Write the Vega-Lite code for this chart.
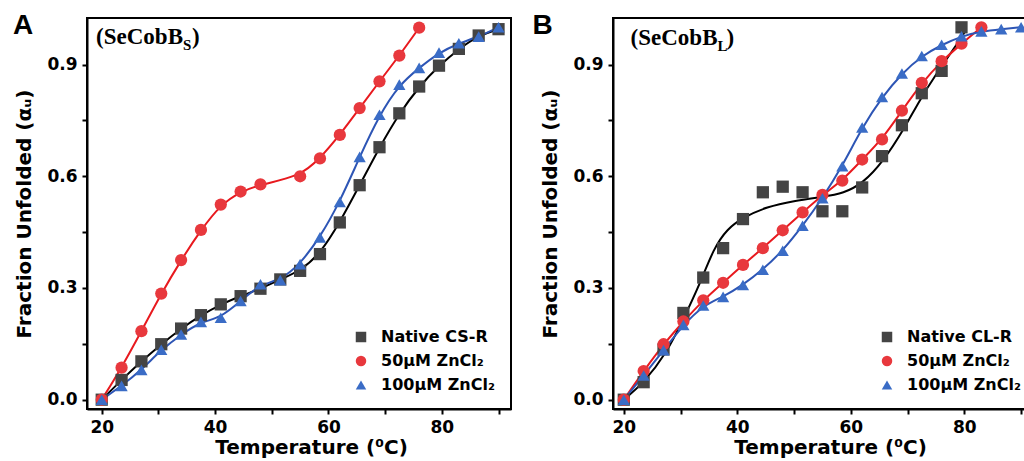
{
  "$schema": "https://vega.github.io/schema/vega-lite/v6.json",
  "padding": {"left": 11, "top": 11, "right": 0, "bottom": 0},
  "background": "white",
  "config": {
    "font": "DejaVu Sans",
    "view": {"stroke": "black", "strokeWidth": 2},
    "axis": {"grid": false, "domainColor": "black", "domainWidth": 2, "tickColor": "black", "tickWidth": 2, "tickSize": 5, "labelFont": "DejaVu Sans", "labelFontWeight": "bold", "labelFontSize": 17, "labelColor": "black", "titleFont": "DejaVu Sans", "titleFontWeight": "bold", "titleFontSize": 20, "titleColor": "black"},
    "legend": {"orient": "bottom-right", "offset": 16, "labelFont": "DejaVu Sans", "labelFontWeight": "bold", "labelFontSize": 16, "labelColor": "black", "symbolSize": 110, "symbolStrokeWidth": 0, "rowPadding": 8, "labelOffset": 12, "padding": 0}
  },
  "datasets": {
    "tag": [
      {"p": "A", "t": 4.34, "v": 0.982, "txt": "A"},
      {"p": "B", "t": 3.92, "v": 0.982, "txt": "B"}
    ],
    "lab": [
      {"p": "A", "t": 19.0, "v": 0.954, "txt": "(SeCobB", "sub": "S"},
      {"p": "B", "t": 21.2, "v": 0.952, "txt": "(SeCobB", "sub": "L"}
    ],
    "pts": [
      {"p":"A","s":"Native CS-R","r":"b","t":20,"v":0},
      {"p":"A","s":"Native CS-R","r":"b","t":23.5,"v":0.053},
      {"p":"A","s":"Native CS-R","r":"b","t":27,"v":0.103},
      {"p":"A","s":"Native CS-R","r":"b","t":30.5,"v":0.149},
      {"p":"A","s":"Native CS-R","r":"b","t":34,"v":0.191},
      {"p":"A","s":"Native CS-R","r":"b","t":37.5,"v":0.227},
      {"p":"A","s":"Native CS-R","r":"b","t":41,"v":0.256},
      {"p":"A","s":"Native CS-R","r":"b","t":44.5,"v":0.278},
      {"p":"A","s":"Native CS-R","r":"b","t":48,"v":0.298},
      {"p":"A","s":"Native CS-R","r":"b","t":51.5,"v":0.323},
      {"p":"A","s":"Native CS-R","r":"b","t":55,"v":0.346},
      {"p":"A","s":"Native CS-R","r":"b","t":58.5,"v":0.391},
      {"p":"A","s":"Native CS-R","r":"b","t":62,"v":0.476},
      {"p":"A","s":"Native CS-R","r":"b","t":65.5,"v":0.576},
      {"p":"A","s":"Native CS-R","r":"b","t":69,"v":0.678},
      {"p":"A","s":"Native CS-R","r":"b","t":72.5,"v":0.769},
      {"p":"A","s":"Native CS-R","r":"b","t":76,"v":0.841},
      {"p":"A","s":"Native CS-R","r":"b","t":79.5,"v":0.897},
      {"p":"A","s":"Native CS-R","r":"b","t":83,"v":0.942},
      {"p":"A","s":"Native CS-R","r":"b","t":86.5,"v":0.978},
      {"p":"A","s":"Native CS-R","r":"b","t":90,"v":0.995},
      {"p":"A","s":"50µM ZnCl₂","r":"b","t":20,"v":0},
      {"p":"A","s":"50µM ZnCl₂","r":"b","t":23.5,"v":0.086},
      {"p":"A","s":"50µM ZnCl₂","r":"b","t":27,"v":0.184},
      {"p":"A","s":"50µM ZnCl₂","r":"b","t":30.5,"v":0.285},
      {"p":"A","s":"50µM ZnCl₂","r":"b","t":34,"v":0.375},
      {"p":"A","s":"50µM ZnCl₂","r":"b","t":37.5,"v":0.456},
      {"p":"A","s":"50µM ZnCl₂","r":"b","t":41,"v":0.524},
      {"p":"A","s":"50µM ZnCl₂","r":"b","t":44.5,"v":0.559},
      {"p":"A","s":"50µM ZnCl₂","r":"b","t":48,"v":0.578},
      {"p":"A","s":"50µM ZnCl₂","r":"b","t":55,"v":0.6},
      {"p":"A","s":"50µM ZnCl₂","r":"b","t":58.5,"v":0.648},
      {"p":"A","s":"50µM ZnCl₂","r":"b","t":62,"v":0.711},
      {"p":"A","s":"50µM ZnCl₂","r":"b","t":65.5,"v":0.783},
      {"p":"A","s":"50µM ZnCl₂","r":"b","t":69,"v":0.855},
      {"p":"A","s":"50µM ZnCl₂","r":"b","t":72.5,"v":0.924},
      {"p":"A","s":"50µM ZnCl₂","r":"b","t":76,"v":0.999},
      {"p":"A","s":"100µM ZnCl₂","r":"b","t":20,"v":0},
      {"p":"A","s":"100µM ZnCl₂","r":"b","t":23.5,"v":0.037},
      {"p":"A","s":"100µM ZnCl₂","r":"b","t":27,"v":0.08},
      {"p":"A","s":"100µM ZnCl₂","r":"b","t":30.5,"v":0.134},
      {"p":"A","s":"100µM ZnCl₂","r":"b","t":34,"v":0.175},
      {"p":"A","s":"100µM ZnCl₂","r":"b","t":37.5,"v":0.209},
      {"p":"A","s":"100µM ZnCl₂","r":"b","t":41,"v":0.22},
      {"p":"A","s":"100µM ZnCl₂","r":"b","t":44.5,"v":0.265},
      {"p":"A","s":"100µM ZnCl₂","r":"b","t":48,"v":0.31},
      {"p":"A","s":"100µM ZnCl₂","r":"b","t":51.5,"v":0.321},
      {"p":"A","s":"100µM ZnCl₂","r":"b","t":55,"v":0.364},
      {"p":"A","s":"100µM ZnCl₂","r":"b","t":58.5,"v":0.436},
      {"p":"A","s":"100µM ZnCl₂","r":"b","t":62,"v":0.531},
      {"p":"A","s":"100µM ZnCl₂","r":"b","t":65.5,"v":0.652},
      {"p":"A","s":"100µM ZnCl₂","r":"b","t":69,"v":0.765},
      {"p":"A","s":"100µM ZnCl₂","r":"b","t":72.5,"v":0.846},
      {"p":"A","s":"100µM ZnCl₂","r":"b","t":76,"v":0.891},
      {"p":"A","s":"100µM ZnCl₂","r":"b","t":79.5,"v":0.932},
      {"p":"A","s":"100µM ZnCl₂","r":"b","t":83,"v":0.957},
      {"p":"A","s":"100µM ZnCl₂","r":"b","t":86.5,"v":0.975},
      {"p":"A","s":"100µM ZnCl₂","r":"b","t":90,"v":1.0},
      {"p":"B","s":"Native CL-R","r":"d","t":20,"v":0},
      {"p":"B","s":"Native CL-R","r":"d","t":23.5,"v":0.047},
      {"p":"B","s":"Native CL-R","r":"d","t":27,"v":0.135},
      {"p":"B","s":"Native CL-R","r":"d","t":30.5,"v":0.233},
      {"p":"B","s":"Native CL-R","r":"d","t":34,"v":0.328},
      {"p":"B","s":"Native CL-R","r":"d","t":37.5,"v":0.407},
      {"p":"B","s":"Native CL-R","r":"d","t":41,"v":0.485},
      {"p":"B","s":"Native CL-R","r":"d","t":44.5,"v":0.557},
      {"p":"B","s":"Native CL-R","r":"d","t":48,"v":0.572},
      {"p":"B","s":"Native CL-R","r":"d","t":51.5,"v":0.557},
      {"p":"B","s":"Native CL-R","r":"d","t":55,"v":0.506},
      {"p":"B","s":"Native CL-R","r":"d","t":58.5,"v":0.506},
      {"p":"B","s":"Native CL-R","r":"d","t":62,"v":0.57},
      {"p":"B","s":"Native CL-R","r":"d","t":65.5,"v":0.654},
      {"p":"B","s":"Native CL-R","r":"d","t":69,"v":0.737},
      {"p":"B","s":"Native CL-R","r":"d","t":72.5,"v":0.823},
      {"p":"B","s":"Native CL-R","r":"d","t":76,"v":0.883},
      {"p":"B","s":"Native CL-R","r":"d","t":79.5,"v":1.0},
      {"p":"B","s":"Native CL-R","r":"f","t":20,"v":0},
      {"p":"B","s":"Native CL-R","r":"f","t":23.5,"v":0.045},
      {"p":"B","s":"Native CL-R","r":"f","t":27.5,"v":0.124},
      {"p":"B","s":"Native CL-R","r":"f","t":30.3,"v":0.21},
      {"p":"B","s":"Native CL-R","r":"f","t":33.5,"v":0.314},
      {"p":"B","s":"Native CL-R","r":"f","t":35.8,"v":0.405},
      {"p":"B","s":"Native CL-R","r":"f","t":38.2,"v":0.459},
      {"p":"B","s":"Native CL-R","r":"f","t":41.1,"v":0.49},
      {"p":"B","s":"Native CL-R","r":"f","t":45.2,"v":0.518},
      {"p":"B","s":"Native CL-R","r":"f","t":49.9,"v":0.534},
      {"p":"B","s":"Native CL-R","r":"f","t":55.1,"v":0.545},
      {"p":"B","s":"Native CL-R","r":"f","t":58.7,"v":0.554},
      {"p":"B","s":"Native CL-R","r":"f","t":62.2,"v":0.582},
      {"p":"B","s":"Native CL-R","r":"f","t":65.7,"v":0.64},
      {"p":"B","s":"Native CL-R","r":"f","t":69.2,"v":0.722},
      {"p":"B","s":"Native CL-R","r":"f","t":72.1,"v":0.804},
      {"p":"B","s":"Native CL-R","r":"f","t":75.1,"v":0.876},
      {"p":"B","s":"Native CL-R","r":"f","t":78,"v":0.939},
      {"p":"B","s":"Native CL-R","r":"f","t":80.2,"v":0.99},
      {"p":"B","s":"50µM ZnCl₂","r":"b","t":20,"v":0},
      {"p":"B","s":"50µM ZnCl₂","r":"b","t":23.5,"v":0.077},
      {"p":"B","s":"50µM ZnCl₂","r":"b","t":27,"v":0.149},
      {"p":"B","s":"50µM ZnCl₂","r":"b","t":30.5,"v":0.21},
      {"p":"B","s":"50µM ZnCl₂","r":"b","t":34,"v":0.267},
      {"p":"B","s":"50µM ZnCl₂","r":"b","t":37.5,"v":0.314},
      {"p":"B","s":"50µM ZnCl₂","r":"b","t":41,"v":0.362},
      {"p":"B","s":"50µM ZnCl₂","r":"b","t":44.5,"v":0.407},
      {"p":"B","s":"50µM ZnCl₂","r":"b","t":48,"v":0.455},
      {"p":"B","s":"50µM ZnCl₂","r":"b","t":51.5,"v":0.503},
      {"p":"B","s":"50µM ZnCl₂","r":"b","t":55,"v":0.55},
      {"p":"B","s":"50µM ZnCl₂","r":"b","t":58.5,"v":0.588},
      {"p":"B","s":"50µM ZnCl₂","r":"b","t":62,"v":0.645},
      {"p":"B","s":"50µM ZnCl₂","r":"b","t":65.5,"v":0.699},
      {"p":"B","s":"50µM ZnCl₂","r":"b","t":69,"v":0.776},
      {"p":"B","s":"50µM ZnCl₂","r":"b","t":72.5,"v":0.851},
      {"p":"B","s":"50µM ZnCl₂","r":"b","t":76,"v":0.909},
      {"p":"B","s":"50µM ZnCl₂","r":"b","t":79.5,"v":0.956},
      {"p":"B","s":"50µM ZnCl₂","r":"b","t":83,"v":1.0},
      {"p":"B","s":"100µM ZnCl₂","r":"b","t":20,"v":0},
      {"p":"B","s":"100µM ZnCl₂","r":"b","t":23.5,"v":0.065},
      {"p":"B","s":"100µM ZnCl₂","r":"b","t":27,"v":0.133},
      {"p":"B","s":"100µM ZnCl₂","r":"b","t":30.5,"v":0.201},
      {"p":"B","s":"100µM ZnCl₂","r":"b","t":34,"v":0.253},
      {"p":"B","s":"100µM ZnCl₂","r":"b","t":37.5,"v":0.276},
      {"p":"B","s":"100µM ZnCl₂","r":"b","t":41,"v":0.308},
      {"p":"B","s":"100µM ZnCl₂","r":"b","t":44.5,"v":0.349},
      {"p":"B","s":"100µM ZnCl₂","r":"b","t":48,"v":0.4},
      {"p":"B","s":"100µM ZnCl₂","r":"b","t":51.5,"v":0.467},
      {"p":"B","s":"100µM ZnCl₂","r":"b","t":55,"v":0.541},
      {"p":"B","s":"100µM ZnCl₂","r":"b","t":58.5,"v":0.627},
      {"p":"B","s":"100µM ZnCl₂","r":"b","t":62,"v":0.731},
      {"p":"B","s":"100µM ZnCl₂","r":"b","t":65.5,"v":0.813},
      {"p":"B","s":"100µM ZnCl₂","r":"b","t":69,"v":0.876},
      {"p":"B","s":"100µM ZnCl₂","r":"b","t":72.5,"v":0.923},
      {"p":"B","s":"100µM ZnCl₂","r":"b","t":76,"v":0.953},
      {"p":"B","s":"100µM ZnCl₂","r":"b","t":79.5,"v":0.976},
      {"p":"B","s":"100µM ZnCl₂","r":"b","t":83,"v":0.989},
      {"p":"B","s":"100µM ZnCl₂","r":"b","t":86.5,"v":0.995},
      {"p":"B","s":"100µM ZnCl₂","r":"b","t":90,"v":1.0}
    ]
  },
  "hconcat": [
    {
      "width": 424,
      "height": 391,
      "encoding": {
        "x": {"field": "t", "type": "quantitative", "scale": {"domain": [17.4, 92.2], "nice": false, "zero": false},
          "axis": {"title": "Temperature (⁰C)", "values": [20, 30, 40, 50, 60, 70, 80, 90], "labelExpr": "datum.value % 20 === 0 ? datum.label : ''", "labelPadding": 5, "titlePadding": 2, "titleX": 224}},
        "y": {"field": "v", "type": "quantitative", "scale": {"domain": [-0.025, 1.025], "nice": false, "zero": false},
          "axis": {"title": "Fraction Unfolded (αᵤ)", "values": [0, 0.15, 0.3, 0.45, 0.6, 0.75, 0.9], "labelExpr": "round(datum.value * 100) % 30 === 0 ? format(datum.value, '.1f') : ''", "labelPadding": 5, "titlePadding": 12}}
      },
      "layer": [
        {"data": {"name": "pts"}, "transform": [{"filter": "datum.p === 'A' && datum.r !== 'd' && datum.s === 'Native CS-R'"}], "mark": {"type": "line", "interpolate": "basis", "strokeWidth": 2, "color": "#000000"}, "encoding": {}},
        {"data": {"name": "pts"}, "transform": [{"filter": "datum.p === 'A' && datum.r !== 'd' && datum.s === '50µM ZnCl₂'"}], "mark": {"type": "line", "interpolate": "basis", "strokeWidth": 2, "color": "#e8191e"}, "encoding": {}},
        {"data": {"name": "pts"}, "transform": [{"filter": "datum.p === 'A' && datum.r !== 'd' && datum.s === '100µM ZnCl₂'"}], "mark": {"type": "line", "interpolate": "basis", "strokeWidth": 2, "color": "#2d55b5"}, "encoding": {}},
        {
          "data": {"name": "pts"},
          "transform": [{"filter": "datum.p === 'A' && datum.r !== 'f'"}],
          "mark": {"type": "point", "filled": true, "size": 150, "opacity": 1},
          "encoding": {
            "color": {"field": "s", "type": "nominal", "title": null, "scale": {"domain": ["Native CS-R", "50µM ZnCl₂", "100µM ZnCl₂"], "range": ["#444444", "#e8383d", "#3a6cc6"]}},
            "shape": {"field": "s", "type": "nominal", "title": null, "scale": {"domain": ["Native CS-R", "50µM ZnCl₂", "100µM ZnCl₂"], "range": ["square", "circle", "triangle-up"]}}
          }
        },
        {
          "data": {"name": "lab"},
          "transform": [{"filter": "datum.p === 'A'"}],
          "mark": {"type": "text", "font": "Liberation Serif", "fontWeight": "bold", "fontSize": 23, "align": "left", "baseline": "alphabetic", "color": "black"},
          "encoding": {"text": {"field": "txt"}}
        },
        {
          "data": {"name": "lab"},
          "transform": [{"filter": "datum.p === 'A'"}],
          "mark": {"type": "text", "font": "Liberation Serif", "fontWeight": "bold", "fontSize": 15, "align": "left", "baseline": "alphabetic", "color": "black", "dx": 87, "dy": 6},
          "encoding": {"text": {"field": "sub"}}
        },
        {
          "data": {"name": "lab"},
          "transform": [{"filter": "datum.p === 'A'"}],
          "mark": {"type": "text", "font": "Liberation Serif", "fontWeight": "bold", "fontSize": 23, "align": "left", "baseline": "alphabetic", "color": "black", "dx": 96},
          "encoding": {"text": {"value": ")"}}
        },
        {
          "data": {"name": "tag"},
          "transform": [{"filter": "datum.p === 'A'"}],
          "mark": {"type": "text", "font": "Liberation Sans", "fontWeight": "bold", "fontSize": 28, "align": "left", "baseline": "alphabetic", "color": "black"},
          "encoding": {"text": {"field": "txt"}}
        }
      ]
    },
    {
      "width": 424,
      "height": 391,
      "encoding": {
        "x": {"field": "t", "type": "quantitative", "scale": {"domain": [18.1, 92.8], "nice": false, "zero": false},
          "axis": {"title": "Temperature (⁰C)", "values": [20, 30, 40, 50, 60, 70, 80, 90], "labelExpr": "datum.value % 20 === 0 ? datum.label : ''", "labelPadding": 5, "titlePadding": 2, "titleX": 217}},
        "y": {"field": "v", "type": "quantitative", "scale": {"domain": [-0.025, 1.025], "nice": false, "zero": false},
          "axis": {"title": "Fraction Unfolded (αᵤ)", "values": [0, 0.15, 0.3, 0.45, 0.6, 0.75, 0.9], "labelExpr": "round(datum.value * 100) % 30 === 0 ? format(datum.value, '.1f') : ''", "labelPadding": 5, "titlePadding": 12}}
      },
      "layer": [
        {"data": {"name": "pts"}, "transform": [{"filter": "datum.p === 'B' && datum.r !== 'd' && datum.s === 'Native CL-R'"}], "mark": {"type": "line", "interpolate": "basis", "strokeWidth": 2, "color": "#000000"}, "encoding": {}},
        {"data": {"name": "pts"}, "transform": [{"filter": "datum.p === 'B' && datum.r !== 'd' && datum.s === '50µM ZnCl₂'"}], "mark": {"type": "line", "interpolate": "basis", "strokeWidth": 2, "color": "#e8191e"}, "encoding": {}},
        {"data": {"name": "pts"}, "transform": [{"filter": "datum.p === 'B' && datum.r !== 'd' && datum.s === '100µM ZnCl₂'"}], "mark": {"type": "line", "interpolate": "basis", "strokeWidth": 2, "color": "#2d55b5"}, "encoding": {}},
        {
          "data": {"name": "pts"},
          "transform": [{"filter": "datum.p === 'B' && datum.r !== 'f'"}],
          "mark": {"type": "point", "filled": true, "size": 150, "opacity": 1},
          "encoding": {
            "color": {"field": "s", "type": "nominal", "title": null, "scale": {"domain": ["Native CL-R", "50µM ZnCl₂", "100µM ZnCl₂"], "range": ["#444444", "#e8383d", "#3a6cc6"]}},
            "shape": {"field": "s", "type": "nominal", "title": null, "scale": {"domain": ["Native CL-R", "50µM ZnCl₂", "100µM ZnCl₂"], "range": ["square", "circle", "triangle-up"]}}
          }
        },
        {
          "data": {"name": "lab"},
          "transform": [{"filter": "datum.p === 'B'"}],
          "mark": {"type": "text", "font": "Liberation Serif", "fontWeight": "bold", "fontSize": 23, "align": "left", "baseline": "alphabetic", "color": "black"},
          "encoding": {"text": {"field": "txt"}}
        },
        {
          "data": {"name": "lab"},
          "transform": [{"filter": "datum.p === 'B'"}],
          "mark": {"type": "text", "font": "Liberation Serif", "fontWeight": "bold", "fontSize": 15, "align": "left", "baseline": "alphabetic", "color": "black", "dx": 87, "dy": 6},
          "encoding": {"text": {"field": "sub"}}
        },
        {
          "data": {"name": "lab"},
          "transform": [{"filter": "datum.p === 'B'"}],
          "mark": {"type": "text", "font": "Liberation Serif", "fontWeight": "bold", "fontSize": 23, "align": "left", "baseline": "alphabetic", "color": "black", "dx": 96},
          "encoding": {"text": {"value": ")"}}
        },
        {
          "data": {"name": "tag"},
          "transform": [{"filter": "datum.p === 'B'"}],
          "mark": {"type": "text", "font": "Liberation Sans", "fontWeight": "bold", "fontSize": 28, "align": "left", "baseline": "alphabetic", "color": "black"},
          "encoding": {"text": {"field": "txt"}}
        }
      ]
    }
  ],
  "spacing": 19,
  "resolve": {
    "scale": {"x": "independent", "y": "independent", "color": "independent", "shape": "independent"},
    "legend": {"color": "independent", "shape": "independent"}
  }
}
